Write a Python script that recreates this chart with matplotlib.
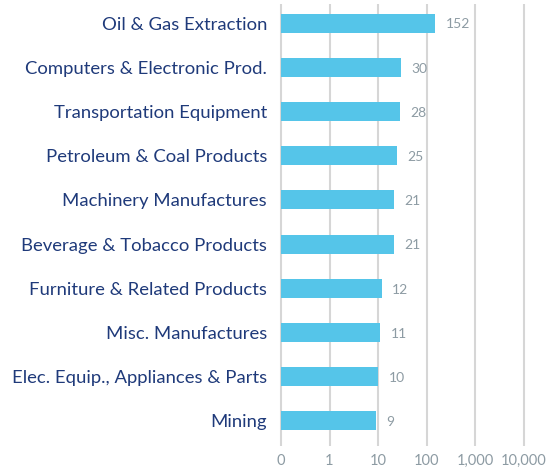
import matplotlib.pyplot as plt
import matplotlib.transforms as mtrans
import numpy as np

categories = ["Oil & Gas Extraction", "Computers & Electronic Prod.",
              "Transportation Equipment", "Petroleum & Coal Products",
              "Machinery Manufactures", "Beverage & Tobacco Products",
              "Furniture & Related Products", "Misc. Manufactures",
              "Elec. Equip., Appliances & Parts", "Mining"]
values = [152, 30, 28, 25, 21, 21, 12, 11, 10, 9]
tick_vals = [0.1, 1, 10, 100, 1000, 10000]
tick_labels = ["0", "1", "10", "100", "1,000", "10,000"]

plt.rcParams["font.family"] = ["Lato", "DejaVu Sans"]

fig = plt.figure(figsize=(5.57, 4.68), dpi=100)
# pixel layout: 0.1 at x=281, one decade ~48.5px
dec = 48.5
x0, x1 = 276, 530
ax = fig.add_axes([x0 / 557, 22 / 468, (x1 - x0) / 557, 442 / 468])
lo = 10 ** (-1 - (281 - x0) / dec)
hi = 10 ** (-1 + (x1 - 281) / dec)
ax.set_xscale("log")
ax.set_xlim(lo, hi)

y = np.arange(len(categories))[::-1]
ax.set_ylim(-0.566, 9.43)

for t in tick_vals:
    ax.axvline(t, color="#d6d6d6", lw=1.5, zorder=0)

ax.barh(y, [v - 0.1 for v in values], left=0.1, height=0.43,
        color="#55c5e9", zorder=2)

for yi, v in zip(y, values):
    ax.annotate(str(v), (v, yi), xytext=(7.5, -1), textcoords="offset points",
                va="center", ha="left", fontsize=10, color="#8d9ba3")

ax.set_yticks(y)
ax.set_yticklabels(categories, fontsize=13.3, color="#1f3a7a")
shift = mtrans.ScaledTranslation(0, 1.5 / 72, fig.dpi_scale_trans)
for lab in ax.get_yticklabels():
    lab.set_transform(lab.get_transform() + shift)
ax.set_xticks(tick_vals)
ax.set_xticklabels(tick_labels, fontsize=10.5, color="#8d9ba3")
ax.minorticks_off()
ax.tick_params(axis="both", length=0)
ax.tick_params(axis="y", pad=6.5)
ax.tick_params(axis="x", pad=6)
for s in ax.spines.values():
    s.set_visible(False)

fig.savefig("out.png", dpi=100)
